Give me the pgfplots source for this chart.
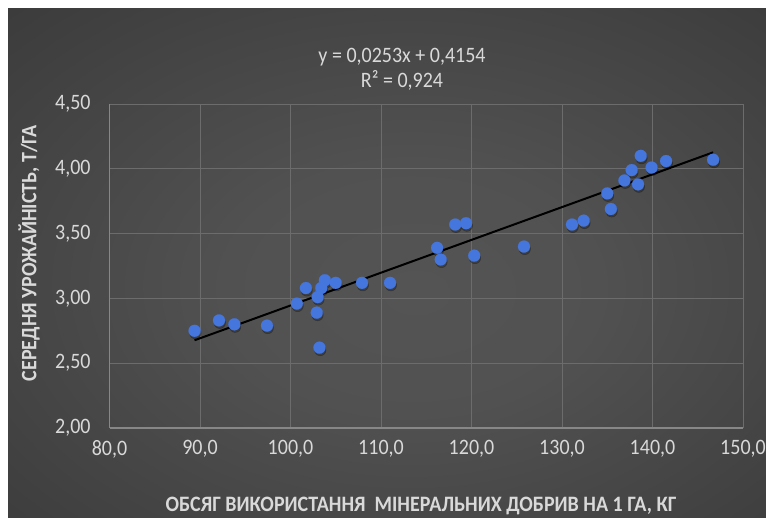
\documentclass[border=0pt]{standalone}
\usepackage{pgfplots}
\pgfplotsset{compat=1.18}
\usepackage{fontspec}
\setmainfont{Carlito}
\definecolor{txt}{RGB}{217,217,217}
\definecolor{gridc}{RGB}{108,108,108}
\definecolor{axc}{RGB}{135,135,135}
\definecolor{bgin}{RGB}{84,84,84}
\definecolor{bgout}{RGB}{30,30,30}
\definecolor{dotc}{RGB}{68,118,222}
\pgfdeclareradialshading{bgshade}{\pgfpoint{2bp}{-3bp}}{color(0bp)=(bgin); color(12bp)=(bgin!95!bgout); color(72bp)=(bgout)}
\pgfplotstableread{
x y
89.4 2.75
92.1 2.83
93.8 2.80
97.4 2.79
100.7 2.96
101.7 3.08
102.9 2.89
103.0 3.01
103.2 2.62
103.4 3.08
103.8 3.14
105.0 3.12
107.9 3.12
111.0 3.12
116.2 3.39
116.6 3.30
118.2 3.57
119.4 3.58
120.3 3.33
125.8 3.40
131.1 3.57
132.4 3.60
135.0 3.81
135.4 3.69
136.9 3.91
137.7 3.99
138.4 3.88
138.7 4.10
139.9 4.01
141.5 4.06
146.7 4.07
}\pts
\begin{document}
\begin{tikzpicture}
\useasboundingbox (0pt,0pt) rectangle (574.5pt,-387.75pt);
\fill[white] (0pt,0pt) rectangle (574.5pt,-387.75pt);
\shade[shading=bgshade] (6pt,-6.75pt) rectangle (574.5pt,-387.75pt);
\begin{scope}
\clip (0pt,0pt) rectangle (574.5pt,-387.75pt);
\begin{axis}[
  at={(82.125pt,-321pt)}, anchor=south west,
  scale only axis, width=475.125pt, height=243pt,
  xmin=80, xmax=150, ymin=2, ymax=4.5,
  xtick={80,90,...,150}, ytick={2,2.5,...,4.5},
  grid=major, major grid style={draw=gridc, line width=0.7pt},
  axis line style={draw=axc, line width=0.8pt},
  axis x line=bottom, axis y line=left,
  x axis line style={-}, y axis line style={-},
  tick style={draw=none},
  /pgf/number format/assume math mode=true,
  xticklabel style={font=\fontsize{15}{18}\selectfont, text=txt, yshift=-3.5pt, yscale=1.1,
    /pgf/number format/.cd, use comma, fixed, fixed zerofill, precision=1},
  yticklabel style={font=\fontsize{15}{18}\selectfont, text=txt, xshift=-8.5pt, yscale=1.1,
    /pgf/number format/.cd, use comma, fixed, fixed zerofill, precision=2},
  clip=false,
]
\addplot[only marks, mark=*, color=black, opacity=0.25, mark size=4.3pt, mark options={draw=none, fill=black, xshift=0.6pt, yshift=-1.8pt}] table {\pts};
\addplot[only marks, mark=*, color=dotc, mark size=4.5pt, mark options={draw=dotc, fill=dotc, line width=0.1pt}] table {\pts};
\addplot[black, line width=1.5pt] coordinates {(89.4,2.677) (146.7,4.127)};
\end{axis}
\node[text=txt, font=\fontsize{15}{18}\selectfont, yscale=1.1] at (301.5pt,-43pt) {y = 0,0253x + 0,4154};
\node[text=txt, font=\fontsize{15}{18}\selectfont, yscale=1.1] at (301.5pt,-60pt) {R² = 0,924};
\node[text=txt, font=\bfseries\fontsize{15}{18}\selectfont, rotate=90, yscale=1.1] at (21.75pt,-189.75pt) {СЕРЕДНЯ УРОЖАЙНІСТЬ, Т/ГА};
\node[text=txt, font=\bfseries\fontsize{15}{18}\selectfont, yscale=1.1] at (315.75pt,-379.5pt) {ОБСЯГ ВИКОРИСТАННЯ\ \ МІНЕРАЛЬНИХ ДОБРИВ НА 1 ГА, КГ};
\end{scope}
\end{tikzpicture}
\end{document}
